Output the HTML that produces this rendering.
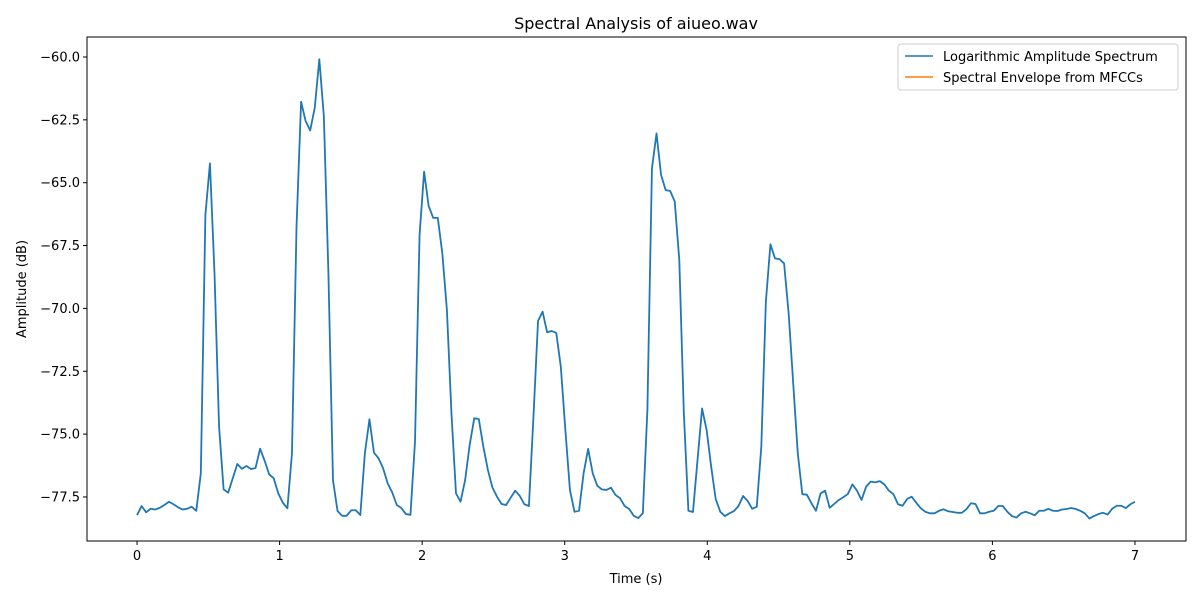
<!DOCTYPE html>
<html><head><meta charset="utf-8"><style>
body{margin:0;background:#fff;font-family:"Liberation Sans","DejaVu Sans",sans-serif;}
svg text{font-family:"DejaVu Sans","Liberation Sans",sans-serif;font-size:13px;fill:#000;}
</style></head><body>
<svg id="chart" width="1200" height="600" xmlns="http://www.w3.org/2000/svg">
<rect width="1200" height="600" fill="#fff"/>
<text x="636" y="29" text-anchor="middle" style="font-size:16px">Spectral Analysis of aiueo.wav</text>
<g id="plot"></g>
<rect x="87" y="37" width="1099" height="504" fill="none" stroke="#000" stroke-width="1"/>
<text x="636" y="583" text-anchor="middle">Time (s)</text>
<text transform="translate(26,289) rotate(-90)" text-anchor="middle">Amplitude (dB)</text>
<g>
<rect x="898" y="44" width="280" height="46" rx="3" fill="#fff" stroke="#ccc"/>
<line x1="905" y1="56" x2="933" y2="56" stroke="#1f77b4" stroke-width="1.5"/>
<text x="943" y="61">Logarithmic Amplitude Spectrum</text>
<line x1="905" y1="77" x2="933" y2="77" stroke="#ff7f0e" stroke-width="1.5"/>
<text x="943" y="82">Spectral Envelope from MFCCs</text>
</g>
</svg>
<script>
const xTicks=[0,1,2,3,4,5,6,7];
const yTicks=[-77.5,-75.0,-72.5,-70.0,-67.5,-65.0,-62.5,-60.0];
const yTickLabels=["−77.5","−75.0","−72.5","−70.0","−67.5","−65.0","−62.5","−60.0"];
const amplitude=[-78.22,-77.86,-78.11,-77.97,-78.0,-77.93,-77.82,-77.69,-77.79,-77.91,-78.0,-77.97,-77.89,-78.05,-76.56,-66.28,-64.23,-68.6,-74.7,-77.2,-77.33,-76.76,-76.19,-76.38,-76.27,-76.39,-76.35,-75.58,-76.06,-76.6,-76.76,-77.36,-77.73,-77.95,-75.76,-66.75,-61.78,-62.55,-62.92,-62.02,-60.09,-62.36,-68.6,-76.83,-78.06,-78.25,-78.25,-78.03,-78.03,-78.22,-75.76,-74.41,-75.74,-75.96,
-76.36,-76.96,-77.32,-77.82,-77.94,-78.18,-78.21,-75.3,-67.08,-64.56,-65.93,-66.4,-66.4,-67.81,-70.06,-74.17,-77.36,-77.69,-76.83,-75.43,-74.37,-74.4,-75.5,-76.43,-77.13,-77.49,-77.78,-77.82,-77.53,-77.25,-77.46,-77.79,-77.86,-74.3,-70.5,-70.13,-70.95,-70.9,-70.97,-72.32,-74.84,-77.22,-78.09,-78.05,-76.56,-75.59,-76.56,-77.05,-77.2,-77.22,-77.13,-77.42,
-77.55,-77.86,-77.98,-78.25,-78.34,-78.15,-74.04,-64.43,-63.04,-64.69,-65.29,-65.33,-65.75,-68.07,-74.17,-78.05,-78.1,-76.03,-73.98,-74.84,-76.3,-77.59,-78.09,-78.26,-78.15,-78.06,-77.86,-77.46,-77.66,-77.97,-77.89,-75.5,-69.73,-67.45,-68.01,-68.04,-68.21,-70.2,-72.98,-75.76,-77.39,-77.41,-77.75,-78.05,-77.36,-77.25,-77.93,-77.78,-77.62,-77.51,-77.38,-77.0,-77.25,-77.62,
-77.09,-76.89,-76.92,-76.87,-77.0,-77.25,-77.39,-77.79,-77.85,-77.58,-77.49,-77.73,-77.95,-78.09,-78.15,-78.15,-78.05,-77.99,-78.07,-78.1,-78.13,-78.13,-77.99,-77.75,-77.78,-78.15,-78.15,-78.09,-78.05,-77.86,-77.86,-78.09,-78.26,-78.32,-78.15,-78.09,-78.15,-78.23,-78.05,-78.05,-77.97,-78.05,-78.06,-78.0,-77.98,-77.94,-77.98,-78.05,-78.15,-78.36,-78.26,-78.18,-78.13,-78.2,-77.97,-77.85,-77.85,-77.94,-77.79,-77.69];
const duration=7;
const X0=87,X1=1186,Y0=37,Y1=541,xMin=-0.351,xMax=7.358,yMax=-59.204,yMin=-79.252;
const sx=v=>X0+(v-xMin)/(xMax-xMin)*(X1-X0);
const sy=v=>Y0+(yMax-v)/(yMax-yMin)*(Y1-Y0);
const NS="http://www.w3.org/2000/svg";
const g=document.getElementById('plot');
function mk(t,a){const e=document.createElementNS(NS,t);for(const k in a)e.setAttribute(k,a[k]);g.appendChild(e);return e;}
xTicks.forEach(v=>{
 const l=mk('line',{x1:sx(v),x2:sx(v),y1:Y1,y2:Y1+4,stroke:'#000'});
 
 
 const t=mk('text',{x:sx(v),y:Y1+19,'text-anchor':'middle'});t.textContent=v;
 
 
});
yTicks.forEach((v,i)=>{
 const l=mk('line',{x1:X0-4,x2:X0,y1:sy(v),y2:sy(v),stroke:'#000'});
 
 
 const t=mk('text',{x:X0-7,y:sy(v)+4.5,'text-anchor':'end'});t.textContent=yTickLabels[i];
 
 
});
const dt=duration/(amplitude.length-1);
const pts=amplitude.map((v,i)=>sx(i*dt).toFixed(2)+','+sy(v).toFixed(2)).join(' ');
const pl=mk('polyline',{points:pts,fill:'none',stroke:'#1f77b4','stroke-width':1.8,'stroke-linejoin':'round'});


</script>
</body></html>
